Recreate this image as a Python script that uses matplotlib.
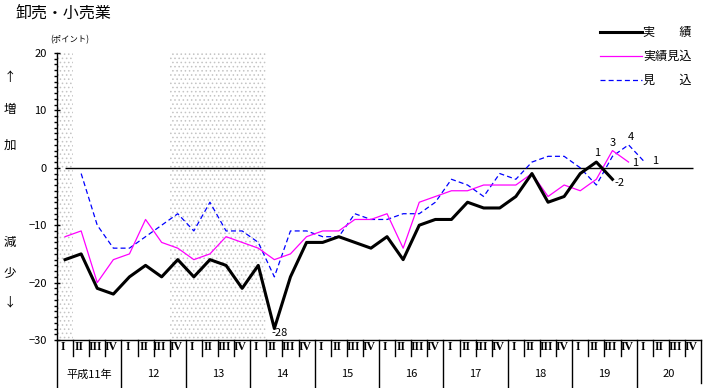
import numpy as np
import matplotlib
matplotlib.use('Agg')
import matplotlib.pyplot as plt
from matplotlib.lines import Line2D

plt.rcParams['font.family'] = ['Noto Sans CJK JP', 'DejaVu Sans']
plt.rcParams['hatch.linewidth'] = 0.6

# 年と期のラベル（平成11年Ⅰ期〜20年Ⅳ期）
nendo = ['平成11年', '12', '13', '14', '15', '16', '17', '18', '19', '20']
kibetsu = ['I', 'II', 'III', 'IV']

# 実績 (11年Ⅰ期〜19年Ⅲ期)
jisseki = [-16, -15, -21, -22, -19, -17, -19, -16, -19, -16, -17, -21,
           -17, -28, -19, -13, -13, -12, -13, -14, -12, -16, -10, -9,
           -9, -6, -7, -7, -5, -1, -6, -5, -1, 1, -2]
# 実績見込 (11年Ⅰ期〜19年Ⅳ期)
jisseki_mikomi = [-12, -11, -20, -16, -15, -9, -13, -14, -16, -15, -12, -13,
                  -14, -16, -15, -12, -11, -11, -9, -9, -8, -14, -6, -5,
                  -4, -4, -3, -3, -3, -1, -5, -3, -4, -2, 3, 1]
# 見込 (11年Ⅱ期〜20年Ⅰ期)
mikomi = [-1, -10, -14, -14, -12, -10, -8, -11, -6, -11, -11, -13,
          -19, -11, -11, -12, -12, -8, -9, -9, -8, -8, -6, -2,
          -3, -5, -1, -2, 1, 2, 2, 0, -3, 2, 4, 1]
mikomi_kaishi = 1

# 景気後退期（期の番号: 始め, 終わり）
koutai = [(0, 0), (7, 12)]

n_ki = len(nendo) * len(kibetsu)
x_j = np.arange(len(jisseki))
x_jm = np.arange(len(jisseki_mikomi))
x_m = np.arange(len(mikomi)) + mikomi_kaishi

W, H = 706, 388
fig = plt.figure(figsize=(W / 100, H / 100), dpi=100)
ax = fig.add_axes([57 / W, 48 / H, 644 / W, 287 / H])

# 網掛け
for a, b in koutai:
    ax.axvspan(a - 0.5, b + 0.5, facecolor='white', edgecolor='#c4c4c4',
               hatch='....', linewidth=0, zorder=0)

ax.hlines(0, 0, n_ki - 1, color='black', linewidth=1.0, zorder=1)

ax.plot(x_m, mikomi, color='#0000ff', linewidth=0.9, dashes=(4, 2.5), zorder=2)
ax.plot(x_jm, jisseki_mikomi, color='#ff00ff', linewidth=0.9, zorder=3)
ax.plot(x_j, jisseki, color='black', linewidth=2.2, zorder=4)

ax.set_xlim(-0.5, n_ki - 0.5)
ax.set_ylim(-30, 20)
ax.set_yticks(np.arange(-30, 21, 10))
ax.set_yticks(np.arange(-30, 21, 1), minor=True)
ax.set_xticks([])
ax.tick_params(axis='y', which='major', direction='inout', length=5, width=1,
               labelsize=8, pad=5)
ax.tick_params(axis='y', which='minor', direction='out', length=2, width=1)
for s in ['top', 'right']:
    ax.spines[s].set_visible(False)
ax.spines['left'].set_linewidth(1)
ax.spines['bottom'].set_linewidth(1)

# 数値ラベル
def label(x, y, s, dx, dy, ha='center'):
    ax.annotate(s, (x, y), xytext=(dx, dy), textcoords='offset pixels',
                ha=ha, va='center', fontsize=8, zorder=5)

i_min = int(np.argmin(jisseki))
label(x_j[i_min], jisseki[i_min], str(jisseki[i_min]), -3, -4, ha='left')
label(x_j[-2], jisseki[-2], str(jisseki[-2]), 1, 9)
label(x_j[-1], jisseki[-1], str(jisseki[-1]), 2, -4, ha='left')
label(x_jm[-2], jisseki_mikomi[-2], str(jisseki_mikomi[-2]), 0, 8)
label(x_jm[-1], jisseki_mikomi[-1], str(jisseki_mikomi[-1]), 7, -1)
label(x_m[-2], mikomi[-2], str(mikomi[-2]), 2, 8)
label(x_m[-1], mikomi[-1], str(mikomi[-1]), 10, 1)

# 横軸の区切りとラベル
tr = ax.get_xaxis_transform()
for k in range(1, n_ki):
    if k % 4 == 0:
        ax.plot([k - 0.5, k - 0.5], [0, -0.17], transform=tr, color='black',
                linewidth=1, clip_on=False)
    else:
        ax.plot([k - 0.5, k - 0.5], [0, -0.056], transform=tr, color='black',
                linewidth=1, clip_on=False)
ax.plot([-0.5, -0.5], [0, -0.17], transform=tr, color='black', linewidth=1,
        clip_on=False)
ax.plot([n_ki - 0.5, n_ki - 0.5], [0, -0.15], transform=tr, color='black',
        linewidth=1, clip_on=False)
for k in range(n_ki):
    ax.text(k - 0.12, -0.024, kibetsu[k % 4], transform=tr, ha='center',
            va='center', fontsize=8.5, family='Liberation Serif',
            fontweight='bold')
for j, s in enumerate(nendo):
    ax.text(j * 4 + 1.5, -0.12, s, transform=tr, ha='center', va='center',
            fontsize=8)

# タイトルなど
fig.text(15 / W, 1 - 13 / H, '卸売・小売業', fontsize=11.5, va='center')
fig.text(50 / W, 1 - 40 / H, '(ポイント)', fontsize=6, va='center')
for s, yy in [('↑', 77), ('増', 109), ('加', 145), ('減', 242), ('少', 273), ('↓', 302)]:
    fig.text(10 / W, 1 - yy / H, s, fontsize=9, ha='center', va='center')

# 凡例
leg = [('実　　績', 'black', 2.2, None, 32),
       ('実績見込', '#ff00ff', 0.9, None, 56),
       ('見　　込', '#0000ff', 0.9, (4, 2.5), 80)]
for s, c, lw, ds, yy in leg:
    ln = Line2D([600 / W, 642 / W], [1 - yy / H, 1 - yy / H], color=c,
                linewidth=lw, transform=fig.transFigure)
    if ds:
        ln.set_dashes(ds)
    fig.add_artist(ln)
    fig.text(643 / W, 1 - yy / H, s, fontsize=8.7, va='center')

fig.savefig('out.png', dpi=100)
